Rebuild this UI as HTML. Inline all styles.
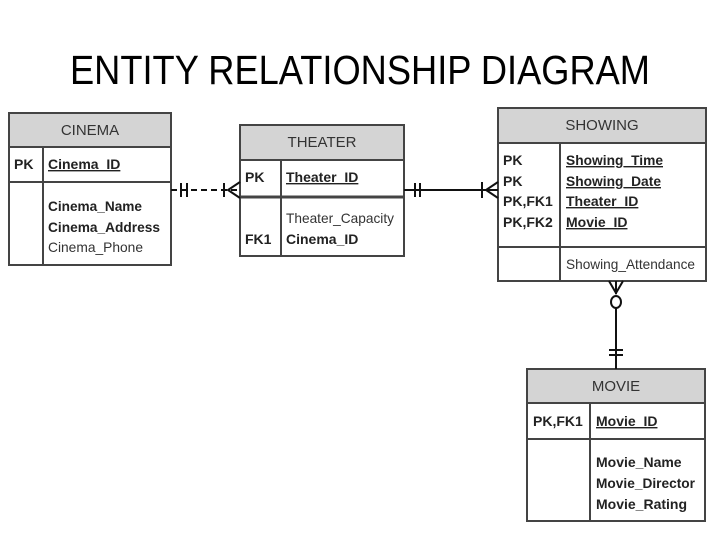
<!DOCTYPE html>
<html><head><meta charset="utf-8"><style>
html,body{margin:0;padding:0;background:#fff;width:720px;height:540px;overflow:hidden}
svg{display:block}
text{font-family:"Liberation Sans",Arial,sans-serif;fill:#111}
.h{font-size:15px;fill:#333}
.b{font-size:14px;font-weight:bold;fill:#222}
.n{font-size:14px;fill:#333}
</style></head><body>
<svg width="720" height="540" viewBox="0 0 720 540" xmlns="http://www.w3.org/2000/svg">
<text x="360" y="84" text-anchor="middle" font-size="41" textLength="580" lengthAdjust="spacingAndGlyphs" style="fill:#000">ENTITY RELATIONSHIP DIAGRAM</text>

<g stroke="#444" stroke-width="2" fill="none">
<rect x="9" y="113" width="162" height="34" fill="#d4d4d4"/>
<rect x="9" y="113" width="162" height="152"/>
<line x1="9" y1="147" x2="171" y2="147"/>
<line x1="9" y1="182" x2="171" y2="182"/>
<line x1="43" y1="147" x2="43" y2="265"/>
<rect x="240" y="125" width="164" height="35" fill="#d4d4d4"/>
<rect x="240" y="125" width="164" height="131"/>
<line x1="240" y1="160" x2="404" y2="160"/>
<line x1="240" y1="197" x2="404" y2="197" stroke-width="3"/>
<line x1="281" y1="160" x2="281" y2="256"/>
<rect x="498" y="108" width="208" height="35" fill="#d4d4d4"/>
<rect x="498" y="108" width="208" height="173"/>
<line x1="498" y1="143" x2="706" y2="143"/>
<line x1="498" y1="247" x2="706" y2="247"/>
<line x1="560" y1="143" x2="560" y2="281"/>
<rect x="527" y="369" width="178" height="34" fill="#d4d4d4"/>
<rect x="527" y="369" width="178" height="152"/>
<line x1="527" y1="403" x2="705" y2="403"/>
<line x1="527" y1="439" x2="705" y2="439"/>
<line x1="590" y1="403" x2="590" y2="521"/>
</g>

<g stroke="#111" stroke-width="2" fill="none">
<line x1="171" y1="190" x2="240" y2="190" stroke-dasharray="6,4"/>
<line x1="181" y1="183" x2="181" y2="197"/>
<line x1="187" y1="183" x2="187" y2="197"/>
<line x1="224" y1="183" x2="224" y2="197"/>
<path d="M240 182 L228 190 L240 198"/>
<line x1="404" y1="190" x2="498" y2="190"/>
<line x1="415" y1="183" x2="415" y2="197"/>
<line x1="420" y1="183" x2="420" y2="197"/>
<line x1="482" y1="182" x2="482" y2="198"/>
<path d="M498 182 L486 190 L498 198"/>
<line x1="616" y1="307" x2="616" y2="369"/>
<path d="M609 281 L616 293 L623 281"/>
<line x1="616" y1="281" x2="616" y2="294"/>
<ellipse cx="616" cy="302" rx="5" ry="6"/>
<line x1="609" y1="350" x2="623" y2="350"/>
<line x1="609" y1="355" x2="623" y2="355"/>
</g>

<text class="h" x="90" y="135" text-anchor="middle">CINEMA</text>
<text class="b" x="14" y="169">PK</text>
<text class="b" x="48" y="169" text-decoration="underline">Cinema_ID</text>
<text class="b" x="48" y="211" textLength="94" lengthAdjust="spacingAndGlyphs">Cinema_Name</text>
<text class="b" x="48" y="232" textLength="112" lengthAdjust="spacingAndGlyphs">Cinema_Address</text>
<text class="n" x="48" y="252" textLength="95" lengthAdjust="spacingAndGlyphs">Cinema_Phone</text>
<text class="h" x="322" y="147" text-anchor="middle">THEATER</text>
<text class="b" x="245" y="182">PK</text>
<text class="b" x="286" y="182" text-decoration="underline">Theater_ID</text>
<text class="n" x="286" y="223" textLength="108" lengthAdjust="spacingAndGlyphs">Theater_Capacity</text>
<text class="b" x="245" y="244">FK1</text>
<text class="b" x="286" y="244">Cinema_ID</text>
<text class="h" x="602" y="130" text-anchor="middle">SHOWING</text>
<text class="b" x="503" y="165">PK</text>
<text class="b" x="503" y="186">PK</text>
<text class="b" x="503" y="206">PK,FK1</text>
<text class="b" x="503" y="227">PK,FK2</text>
<text class="b" x="566" y="165" text-decoration="underline" textLength="97" lengthAdjust="spacingAndGlyphs">Showing_Time</text>
<text class="b" x="566" y="186" text-decoration="underline" textLength="95" lengthAdjust="spacingAndGlyphs">Showing_Date</text>
<text class="b" x="566" y="206" text-decoration="underline">Theater_ID</text>
<text class="b" x="566" y="227" text-decoration="underline">Movie_ID</text>
<text class="n" x="566" y="269" textLength="129" lengthAdjust="spacingAndGlyphs">Showing_Attendance</text>
<text class="h" x="616" y="391" text-anchor="middle">MOVIE</text>
<text class="b" x="533" y="426">PK,FK1</text>
<text class="b" x="596" y="426" text-decoration="underline">Movie_ID</text>
<text class="b" x="596" y="467">Movie_Name</text>
<text class="b" x="596" y="488" textLength="99" lengthAdjust="spacingAndGlyphs">Movie_Director</text>
<text class="b" x="596" y="509">Movie_Rating</text>
</svg>
</body></html>
